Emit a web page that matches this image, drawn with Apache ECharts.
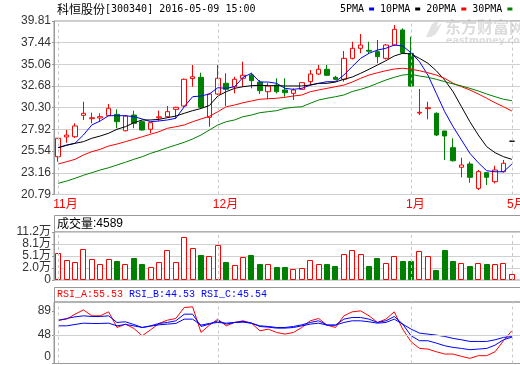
<!DOCTYPE html>
<html><head><meta charset="utf-8">
<script src="https://cdn.jsdelivr.net/npm/echarts@6/dist/echarts.min.js"></script>
<style>html,body{margin:0;padding:0;background:#fff}#c{width:520px;height:365px}</style>
</head><body><div id="c"></div>
<script>
const stockName = '科恒股份', stockCode = '300340', stampTime = '15:00';
const dates = ['2015-11-04','2015-11-05','2015-11-06','2015-11-09','2015-11-10','2015-11-11','2015-11-12','2015-11-13','2015-11-16','2015-11-17','2015-11-18','2015-11-19','2015-11-20','2015-11-23','2015-11-24','2015-11-25','2015-11-26','2015-11-27','2015-11-30',
'2015-12-01','2015-12-02','2015-12-03','2015-12-04','2015-12-07','2015-12-08','2015-12-09','2015-12-10','2015-12-11','2015-12-14','2015-12-15','2015-12-16','2015-12-17','2015-12-18','2015-12-21','2015-12-22','2015-12-23','2015-12-24','2015-12-25','2015-12-28','2015-12-29','2015-12-30','2015-12-31',
'2016-01-04','2016-01-05','2016-01-06','2016-01-07','2016-01-08','2016-01-11','2016-01-12','2016-01-13','2016-01-14','2016-01-15','2016-01-18','2016-01-19','2016-05-09'];
const opens  = [24.93,27.10,27.12,29.47,29.10,29.18,29.43,29.58,27.78,29.50,28.77,27.94,29.20,29.32,30.13,30.49,33.50,33.64,29.25,31.81,32.98,32.61,33.53,33.89,33.12,32.06,32.79,32.25,31.88,32.32,33.16,34.00,34.52,33.64,33.42,35.72,36.82,36.60,36.45,35.72,37.18,38.83,36.27,29.72,30.20,29.69,27.75,25.92,23.77,24.13,21.46,23.18,22.19,23.29,26.63];
const closes = [26.95,27.30,28.30,29.69,29.20,29.32,30.24,28.77,29.39,28.59,27.86,28.66,29.30,29.87,30.35,33.42,33.70,30.35,31.81,33.53,32.32,33.42,33.86,33.27,32.17,32.68,32.06,31.95,32.25,33.05,34.00,34.52,33.86,33.42,35.72,36.82,37.18,36.50,35.90,37.18,38.90,36.34,32.68,29.80,30.30,27.31,27.20,24.49,24.02,22.67,23.29,22.67,23.47,24.21,26.63];
const lows   = [24.38,26.47,26.98,28.96,28.59,28.77,29.43,28.05,27.70,28.05,27.80,27.50,28.88,29.20,29.10,30.40,32.61,30.20,28.22,31.70,30.49,31.88,32.61,32.43,31.81,31.23,31.88,31.51,31.15,32.30,32.79,33.90,33.80,33.30,33.16,35.60,36.27,36.20,35.18,35.60,37.10,36.20,32.60,29.50,29.03,27.20,24.57,24.40,22.67,22.08,21.28,21.83,22.00,23.20,26.63];
const highs  = [26.95,27.86,28.59,30.96,29.76,29.69,30.71,30.13,29.50,29.98,28.90,28.70,29.98,30.49,30.40,33.50,34.99,34.14,31.90,34.99,34.08,33.70,35.35,34.14,33.34,33.00,33.53,33.53,32.43,33.10,34.44,34.99,34.99,33.80,36.52,37.54,38.39,37.54,37.73,37.30,39.38,39.01,38.09,32.36,30.96,29.80,27.75,26.95,24.82,24.38,23.47,23.20,23.94,24.57,26.63];
const ma5  = [25.92,26.21,26.40,27.31,28.41,28.85,29.43,29.43,29.43,29.32,29.07,28.77,28.85,28.96,29.14,30.41,31.51,31.59,31.81,32.50,32.43,32.61,33.64,34.08,33.12,33.12,32.98,32.43,32.32,32.43,32.79,32.98,33.16,33.16,33.89,34.82,35.72,36.27,36.63,36.82,37.18,37.07,36.34,35.35,33.89,31.88,29.87,28.22,26.76,25.30,24.27,23.39,23.28,23.28,24.13];
const ma10 = [25.92,26.18,26.40,26.58,26.95,27.20,27.50,27.94,28.22,28.66,28.96,28.96,29.03,29.21,29.39,29.69,29.98,30.22,30.55,31.59,32.06,32.43,32.61,32.72,32.76,32.72,32.72,32.69,32.69,32.69,32.79,32.98,32.98,33.12,33.42,33.67,34.08,34.52,34.99,35.46,35.98,36.27,36.20,35.72,35.18,34.36,33.34,32.06,30.41,28.77,27.31,26.03,25.37,24.93,24.64];
const ma20 = [24.13,24.38,24.64,25.12,25.48,25.74,26.10,26.32,26.58,26.84,27.12,27.39,27.67,28.05,28.22,28.41,28.77,29.07,29.36,29.87,30.41,30.60,30.85,31.04,31.23,31.29,31.34,31.45,31.59,31.70,32.06,32.25,32.43,32.61,32.79,33.12,33.53,33.89,34.14,34.36,34.55,34.63,34.52,34.36,34.14,33.89,33.53,32.98,32.61,32.25,31.81,31.34,30.85,30.41,29.94];
const ma30 = [22.01,22.26,22.56,22.89,23.18,23.47,23.72,24.02,24.32,24.64,24.93,25.30,25.59,25.92,26.21,26.51,26.87,27.31,27.86,28.41,28.77,28.96,29.32,29.50,29.76,29.87,29.98,30.24,30.35,30.41,30.79,31.15,31.34,31.51,31.70,32.08,32.32,32.61,32.98,33.34,33.64,33.89,33.97,33.78,33.64,33.42,33.16,32.91,32.69,32.43,32.14,31.81,31.51,31.23,31.07];
const volumes = [58600,39800,35800,68800,43400,30700,43400,39100,30700,46700,31400,23000,35800,67000,35800,99300,71300,54300,51000,79000,36500,28100,48500,53600,31400,30700,23800,23800,18000,20500,40800,30700,31400,26400,56100,66300,56100,26400,46700,33200,51000,39100,39100,63700,51000,16200,67000,39100,33200,26400,33200,31400,31400,34000,4589];
const rsiA = [73.3,75.0,83.4,90.7,80.6,80.6,87.4,60.9,66.6,59.3,46.9,57.0,67.7,73.3,76.1,94.7,95.8,52.5,64.9,75.0,63.7,69.4,72.2,68.2,55.3,58.1,52.5,49.7,52.5,60.9,72.2,76.1,64.9,60.9,80.6,87.4,89.0,80.6,69.4,75.0,87.4,58.1,36.8,25.5,24.4,19.9,16.0,16.0,12.0,8.7,13.2,13.2,19.9,38.5,55.53];
const rsiB = [72.7,76.1,78.9,80.6,79.5,79.5,80.6,69.4,70.5,66.0,60.9,63.7,67.7,69.4,72.2,83.4,83.4,62.6,66.6,72.2,66.6,69.4,71.1,68.2,63.7,62.6,60.9,60.9,62.6,65.4,69.4,72.2,64.9,64.9,75.0,77.8,77.8,75.0,69.4,72.2,79.5,66.6,46.9,38.5,38.5,34.5,30.0,27.2,25.5,23.3,24.4,25.5,31.1,40.1,44.53];
const rsiC = [63.7,63.7,66.0,68.2,67.7,67.7,68.2,63.7,66.0,63.7,60.9,63.2,65.4,66.6,67.7,75.0,75.0,64.9,67.7,69.4,68.2,69.4,69.9,68.2,62.6,61.5,59.8,59.8,60.9,63.7,66.6,68.2,64.9,64.9,69.4,72.2,72.2,70.5,68.2,69.4,75.0,66.6,58.1,51.4,49.7,48.0,45.8,42.4,40.1,37.3,37.3,37.3,40.1,44.1,45.54];
const priceTickLabels = ['20.79','23.16','25.54','27.92','30.30','32.68','35.06','37.44','39.81'];
const priceMin = 20.785, priceMax = 39.815;
const volTickLabels = ['0','2.0万','5.1万','8.1万','11.2万'];
const volMin = -10000, volMax = 112000;
const rsiTicks = [0, 48, 89];
const rsiMax = 104;
const maNames = ['5PMA','10PMA','20PMA','30PMA'];

const RED = '#ff0000', GREEN = '#008000', BLUE = '#0000ff', BLACK = '#000000';
const GRID_C = '#d0d0d0', FRAME_C = '#999999';
const SANS = '"Liberation Sans","Noto Sans CJK SC",sans-serif';
const MONO = '"DejaVu Sans Mono",monospace';
const SERIFMONO = '"Liberation Mono",monospace';
const CJK = '"Noto Sans CJK SC",sans-serif';

const N = dates.length;
const slots = N; // leaves empty room to the right of the last candle
const monthOf = i => (dates[i] ? +dates[i].slice(5, 7) : null);
const isMonthStart = i => i < N && (i === 0 || monthOf(i) !== monthOf(i - 1));
const monthIdx = dates.map((d, i) => i).filter(isMonthStart);
const isUp = i => closes[i] > opens[i] || (closes[i] === opens[i] && (i === 0 || closes[i] >= closes[i - 1]));

const left = 54, candleStep = 8.402;
let plotW = 470.5;
const makeGrids = (w) => [
  {left, top: 21, width: w, height: 173.5},
  {left, top: 232, width: w, height: 48},
  {left, top: 302, width: w, height: 61.5}
].map(g => Object.assign(g, {show: true, borderColor: FRAME_C, borderWidth: 1, backgroundColor: 'transparent', containLabel: false, outerBoundsMode: 'none'}));

function xAx(gi, showLabels) {
  return {
    type: 'category', gridIndex: gi, data: dates, boundaryGap: true, max: slots,
    axisLine: {show: false}, axisTick: {show: false}, splitLine: {show: false},
    axisLabel: showLabels ? {
      interval: (idx) => isMonthStart(idx),
      formatter: (v) => v ? (+v.slice(5, 7)) + '月' : '',
      color: RED, fontSize: 12, fontFamily: SANS, margin: 4, align: 'left', padding: [0, 0, 0, -5]
    } : {show: false}
  };
}
const vline = (gi) => ({
  silent: true, symbol: 'none', label: {show: false},
  lineStyle: {color: '#c8c8c8', type: [3, 3], width: 1},
  data: monthIdx.map(i => ({xAxis: dates[i]}))
});
const axisLabelBase = {color: '#333', fontSize: 12, fontFamily: SANS, margin: 3};

const candleData = dates.map((d, i) => {
  const item = {value: [opens[i], closes[i], lows[i], highs[i]]};
  if (opens[i] === closes[i] && highs[i] === lows[i]) item.itemStyle = {color: BLACK, borderColor: BLACK, borderColor0: BLACK, borderColorDoji: BLACK};
  return item;
});

const option = {
  animation: false,
  backgroundColor: '#fff',
  grid: makeGrids(plotW),
  legend: {
    data: maNames, left: 340, top: 4, width: 200, align: 'right', itemWidth: 5, itemHeight: 3, itemGap: 6,
    icon: 'rect', selectedMode: false, padding: 0,
    textStyle: {fontFamily: MONO, fontSize: 10, color: '#000'}
  },
  xAxis: [xAx(0, true), xAx(1, false), xAx(2, false)],
  yAxis: [
    {type: 'value', gridIndex: 0, min: priceMin, max: priceMax, interval: (priceMax - priceMin) / 8,
     axisLine: {show: true, lineStyle: {color: FRAME_C}}, axisTick: {show: true, length: 2, lineStyle: {color: FRAME_C}},
     splitLine: {show: true, lineStyle: {color: GRID_C}},
     axisLabel: Object.assign({}, axisLabelBase, {formatter: (v) => priceTickLabels[Math.round((v - priceMin) / ((priceMax - priceMin) / 8))]})},
    {type: 'value', gridIndex: 1, min: volMin, max: volMax, interval: (volMax - volMin) / 4,
     axisLine: {show: true, lineStyle: {color: FRAME_C}}, axisTick: {show: true, length: 2, lineStyle: {color: FRAME_C}},
     splitLine: {show: true, lineStyle: {color: GRID_C}},
     axisLabel: Object.assign({}, axisLabelBase, {formatter: (v) => volTickLabels[Math.round((v - volMin) / ((volMax - volMin) / 4))]})},
    {type: 'value', gridIndex: 2, min: 0, max: rsiMax,
     axisLine: {show: true, lineStyle: {color: FRAME_C}},
     axisTick: {show: true, length: 2, lineStyle: {color: FRAME_C}, customValues: rsiTicks},
     splitLine: {show: false},
     axisLabel: Object.assign({}, axisLabelBase, {
       customValues: rsiTicks,
       formatter: (v) => v === 0 ? '{z|0}' : '{n|' + v + '}',
       rich: {z: {fontSize: 12, fontFamily: SANS, color: '#333', padding: [0, 0, 14, 0]}, n: {fontSize: 12, fontFamily: SANS, color: '#333'}}
     })}
  ],
  graphic: [
    {type: 'text', x: 445, y: 27, z: -10, silent: true, style: {text: '东方财富网', font: 'bold 16px "Noto Sans CJK SC"', fill: '#dcdcdc', verticalAlign: 'middle'}},
    {type: 'text', x: 446, y: 40.5, z: -10, silent: true, style: {text: 'eastmoney.com', font: 'bold 9.5px "DejaVu Sans"', fill: '#dcdcdc', verticalAlign: 'middle'}},
    {type: 'polygon', z: -10, silent: true, shape: {points: [[426, 37], [432, 24], [440, 19], [436, 27], [442, 23], [436, 34], [431, 37]]}, style: {fill: '#e2e2e2'}},
    {type: 'text', x: 57, y: 9, style: {
      text: '{a|' + stockName + '}{b|[' + stockCode + '] ' + dates[N - 1] + ' ' + stampTime + '}',
      verticalAlign: 'middle',
      rich: {a: {fontSize: 12, fontFamily: CJK, fill: '#000'}, b: {fontSize: 10, fontFamily: MONO, fill: '#000'}}
    }},
    {type: 'rect', shape: {x: left + 0.5, y: 215.5, width: 480, height: 16.5}, style: {fill: 'none', stroke: FRAME_C, lineWidth: 1}},
    {type: 'text', x: 57, y: 223.5, style: {
      text: '{a|成交量}{b|:' + volumes[N - 1] + '}', verticalAlign: 'middle',
      rich: {a: {fontSize: 12, fontFamily: CJK, fill: '#000'}, b: {fontSize: 12, fontFamily: SANS, fill: '#000'}}
    }},
    {type: 'rect', shape: {x: left + 0.5, y: 287.5, width: 480, height: 14.5}, style: {fill: 'none', stroke: FRAME_C, lineWidth: 1}},
    {type: 'text', x: 57, y: 294, style: {text: 'RSI_A:' + rsiA[N - 1].toFixed(2), font: '10px ' + SERIFMONO, fill: RED, verticalAlign: 'middle'}},
    {type: 'text', x: 129, y: 294, style: {text: 'RSI_B:' + rsiB[N - 1].toFixed(2), font: '10px ' + SERIFMONO, fill: BLUE, verticalAlign: 'middle'}},
    {type: 'text', x: 201, y: 294, style: {text: 'RSI_C:' + rsiC[N - 1].toFixed(2), font: '10px ' + SERIFMONO, fill: BLUE, verticalAlign: 'middle'}}
  ],
  series: [
    {type: 'candlestick', name: 'K', xAxisIndex: 0, yAxisIndex: 0, data: candleData, barWidth: 5,
     itemStyle: {color: '#ffffff', color0: GREEN, borderColor: RED, borderColor0: GREEN, borderWidth: 1},
     markLine: vline(0)},
    {type: 'line', name: maNames[0], xAxisIndex: 0, yAxisIndex: 0, data: ma5, showSymbol: false, color: BLUE, lineStyle: {width: 1, color: BLUE}},
    {type: 'line', name: maNames[1], xAxisIndex: 0, yAxisIndex: 0, data: ma10, showSymbol: false, color: BLACK, lineStyle: {width: 1, color: BLACK}},
    {type: 'line', name: maNames[2], xAxisIndex: 0, yAxisIndex: 0, data: ma20, showSymbol: false, color: RED, lineStyle: {width: 1, color: RED}},
    {type: 'line', name: maNames[3], xAxisIndex: 0, yAxisIndex: 0, data: ma30, showSymbol: false, color: GREEN, lineStyle: {width: 1, color: GREEN}},
    {type: 'line', name: 'volGuides', xAxisIndex: 1, yAxisIndex: 1, data: [], markLine: vline(1)},
    {type: 'custom', name: 'VOL', xAxisIndex: 1, yAxisIndex: 1,
     data: volumes.map((v, i) => [i, v, isUp(i) ? 1 : 0]),
     encode: {x: 0, y: 1},
     renderItem: (params, api) => {
       const i = api.value(0), v = api.value(1), up = api.value(2);
       const b = api.coord([i, volMin]);
       const t = api.coord([i, v]);
       const x = Math.round(b[0] - 3) + 0.5;
       const y = Math.round(t[1]) + 0.5;
       return {type: 'rect', shape: {x, y, width: 5, height: Math.round(b[1]) - 0.5 - y},
               style: {fill: up ? '#ffffff' : GREEN, stroke: up ? RED : GREEN, lineWidth: 1}};
     }},
    {type: 'line', name: 'RSI_A', xAxisIndex: 2, yAxisIndex: 2, data: rsiA, showSymbol: false, lineStyle: {width: 1, color: RED}, color: RED,
     markLine: Object.assign(vline(2), {data: vline(2).data.concat([{yAxis: 48, lineStyle: {type: 'solid', color: GRID_C}}])})},
    {type: 'line', name: 'RSI_B', xAxisIndex: 2, yAxisIndex: 2, data: rsiB, showSymbol: false, lineStyle: {width: 1, color: BLUE}, color: BLUE},
    {type: 'line', name: 'RSI_C', xAxisIndex: 2, yAxisIndex: 2, data: rsiC, showSymbol: false, lineStyle: {width: 1, color: BLUE}, color: BLUE}
  ]
};
const chart = echarts.init(document.getElementById('c'), null, {renderer: 'canvas'});
chart.setOption(option);
// calibrate the plot width so that neighbouring candles sit candleStep pixels apart
const xAt = (i) => chart.convertToPixel({gridIndex: 0}, [i, 30])[0];
const step = (xAt(N - 1) - xAt(0)) / (N - 1);
if (Math.abs(step - candleStep) > 0.01) {
  plotW = plotW * candleStep / step;
  chart.setOption({grid: makeGrids(plotW)});
}
</script>
</body></html>
